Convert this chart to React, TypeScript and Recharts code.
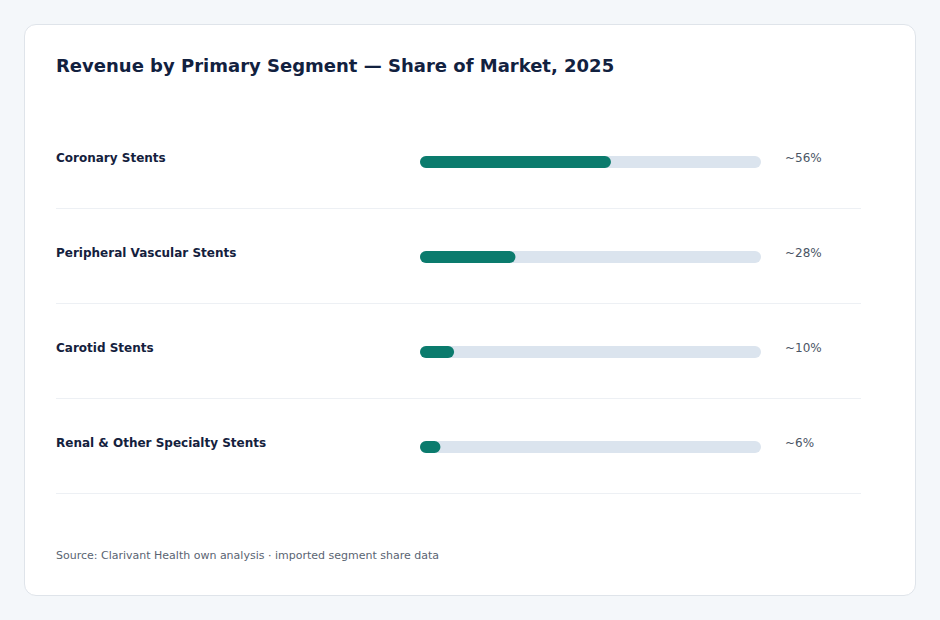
import { BarChart, Bar, XAxis, YAxis } from 'recharts';

// segment share of market, 2025
const segments = [
  'Coronary Stents',
  'Peripheral Vascular Stents',
  'Carotid Stents',
  'Renal & Other Specialty Stents',
];
const shares = [56, 28, 10, 6];
const shareLabels = ['~56%', '~28%', '~10%', '~6%'];

const data = segments.map((name, i) => ({ name, share: shares[i], label: shareLabels[i] }));

const FONT = '"DejaVu Sans", Verdana, sans-serif';
const ROW_H = 95;
const CHART_H = ROW_H * segments.length;

const SegmentTick = (props: any) => {
  const { y, payload } = props;
  return (
    <g>
      <text x={56} y={y + 0.5} textAnchor="start" fontSize={12} fontWeight={700} fill="#14213d" fontFamily={FONT}>
        {payload.value}
      </text>
      <line x1={56} x2={861} y1={y + ROW_H / 2 - 0.5} y2={y + ROW_H / 2 - 0.5} stroke="#edf0f4" strokeWidth={1} />
    </g>
  );
};

const ShareTick = (props: any) => {
  const { x, y, index } = props;
  return (
    <text x={x} y={y + 0.5} textAnchor="start" fontSize={12} fill="#4a5565" fontFamily={FONT}>
      {shareLabels[index]}
    </text>
  );
};

export default function App() {
  return (
    <div style={{ position: 'absolute', left: 0, top: 0, width: 940, height: 620, background: '#f4f7fa', fontFamily: FONT }}>
      <div
        style={{
          position: 'absolute',
          left: 24,
          top: 24,
          width: 892,
          height: 572,
          boxSizing: 'border-box',
          border: '1px solid #dfe4ea',
          borderRadius: 12,
          background: '#ffffff',
        }}
      />
      <div
        style={{
          position: 'absolute',
          left: 56,
          top: 56.5,
          fontSize: 18,
          lineHeight: '18px',
          fontWeight: 700,
          color: '#12213f',
          whiteSpace: 'nowrap',
        }}
      >
        Revenue by Primary Segment — Share of Market, 2025
      </div>
      <div style={{ position: 'absolute', left: 0, top: 114 }}>
        <BarChart
          width={940}
          height={CHART_H}
          data={data}
          layout="vertical"
          margin={{ top: 0, right: 0, bottom: 0, left: 0 }}
        >
          <XAxis type="number" domain={[0, 100]} hide />
          <YAxis
            yAxisId="seg"
            type="category"
            dataKey="name"
            width={420}
            axisLine={false}
            tickLine={false}
            tick={<SegmentTick />}
            interval={0}
          />
          <YAxis
            yAxisId="pct"
            orientation="right"
            type="category"
            dataKey="name"
            width={179}
            axisLine={false}
            tickLine={false}
            tickMargin={18}
            tick={<ShareTick />}
            interval={0}
          />
          <Bar
            yAxisId="seg"
            dataKey="share"
            barSize={12}
            fill="#0b7b6d"
            radius={6}
            background={{ fill: '#dbe4ee', radius: 6 }}
            isAnimationActive={false}
          />
        </BarChart>
      </div>
      <div
        style={{
          position: 'absolute',
          left: 56,
          top: 549.7,
          fontSize: 11,
          lineHeight: '11px',
          color: '#5a6472',
          whiteSpace: 'nowrap',
        }}
      >
        Source: Clarivant Health own analysis · imported segment share data
      </div>
    </div>
  );
}
